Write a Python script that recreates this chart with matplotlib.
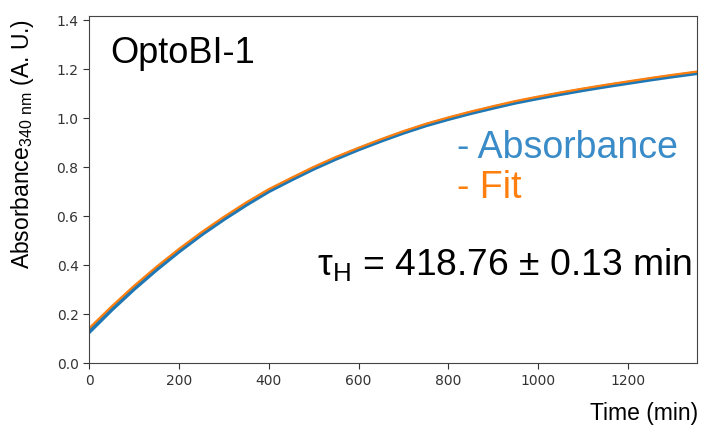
import matplotlib
matplotlib.use("Agg")
import matplotlib.pyplot as plt

# Data (time in min, absorbance at 340 nm)
time_min = [0, 50, 100, 150, 200, 250, 300, 350, 400, 450, 500, 550, 600, 650,
            700, 750, 800, 850, 900, 950, 1000, 1050, 1100, 1150, 1200, 1250, 1300, 1353]
absorbance = [0.128, 0.219, 0.304, 0.383, 0.457, 0.526, 0.589, 0.648, 0.703, 0.750,
              0.795, 0.836, 0.874, 0.909, 0.942, 0.972, 0.998, 1.022, 1.044, 1.065,
              1.083, 1.100, 1.116, 1.131, 1.145, 1.159, 1.172, 1.185]
fit = [0.143, 0.232, 0.316, 0.394, 0.467, 0.535, 0.598, 0.657, 0.711, 0.757,
       0.802, 0.843, 0.880, 0.915, 0.948, 0.978, 1.004, 1.028, 1.050, 1.071,
       1.089, 1.106, 1.122, 1.137, 1.151, 1.165, 1.178, 1.191]

x_ticks = [0, 200, 400, 600, 800, 1000, 1200]
y_ticks = [0.0, 0.2, 0.4, 0.6, 0.8, 1.0, 1.2, 1.4]

sample_name = "OptoBI-1"
tau_text = r"τ$_{H}$ = 418.76 ± 0.13 min"

plt.rcParams['font.family'] = ['Liberation Sans', 'DejaVu Sans']
plt.rcParams['mathtext.default'] = 'regular'

fig = plt.figure(figsize=(7.01, 4.25), dpi=100)
ax = fig.add_axes([0.127, 0.145, 0.867, 0.8185])

ax.plot(time_min, absorbance, color='#1f77b4', lw=3.0)
ax.plot(time_min, fit, color='#ff7f0e', lw=1.6)

ax.set_xlim(0, 1353)
ax.set_ylim(0, 1.42)
ax.set_xticks(x_ticks)
ax.set_yticks(y_ticks)
ax.set_yticklabels([f"{v:.1f}" for v in y_ticks])
for lab in ax.get_xticklabels() + ax.get_yticklabels():
    lab.set_family('DejaVu Sans')
ax.tick_params(labelsize=10, colors='#333333', length=4)
for s in ax.spines.values():
    s.set_color('#444444')

ax.set_ylabel(r"Absorbance$_{340\ nm}$ (A. U.)", fontsize=16.5)
ax.yaxis.set_label_coords(-0.088, 0.632)
ax.set_xlabel("Time (min)", fontsize=16.5, loc='right')
ax.xaxis.set_label_coords(1.002, -0.111)

ax.text(0.035, 0.863, sample_name, transform=ax.transAxes, fontsize=26, va='baseline')
ax.text(0.605, 0.590, "- Absorbance", transform=ax.transAxes, fontsize=27,
        va='baseline', color='#3a8cc8')
ax.text(0.605, 0.475, "- Fit", transform=ax.transAxes, fontsize=27,
        va='baseline', color='#ff7f0e')
ax.text(0.375, 0.254, tau_text, transform=ax.transAxes, fontsize=26.8, va='baseline')

fig.savefig("out.png", dpi=100)
